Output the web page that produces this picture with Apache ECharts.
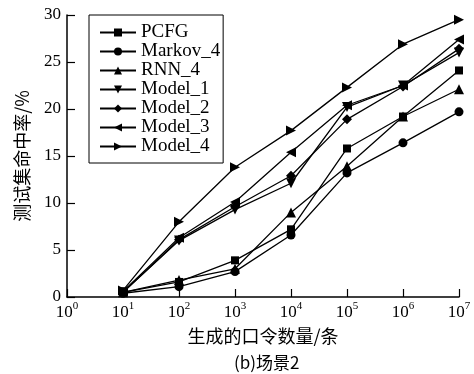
<!DOCTYPE html>
<html>
<head>
<meta charset="utf-8">
<script src="https://cdn.jsdelivr.net/npm/echarts@6/dist/echarts.min.js"></script>
<style>
  html, body { margin: 0; padding: 0; background: #fff; }
  #chart { width: 474px; height: 374px; }
</style>
</head>
<body>
<div id="chart"></div>
<script>
// x: number of generated passwords (log scale)
const counts = [1e1, 1e2, 1e3, 1e4, 1e5, 1e6, 1e7];
const seriesNames = ['PCFG', 'Markov_4', 'RNN_4', 'Model_1', 'Model_2', 'Model_3', 'Model_4'];

// hit rate on test set (%)
const pcfg    = [0.5, 1.6, 3.9, 7.2, 15.8, 19.2, 24.1];
const markov4 = [0.4, 1.1, 2.7, 6.6, 13.2, 16.4, 19.7];
const rnn4    = [0.5, 1.8, 3.0, 9.0, 13.9, 19.2, 22.1];
const model1  = [0.5, 6.0, 9.3, 12.1, 20.2, 22.5, 26.0];
const model2  = [0.5, 6.1, 9.6, 12.9, 18.9, 22.4, 26.4];
const model3  = [0.6, 6.3, 10.1, 15.4, 20.4, 22.5, 27.4];
const model4  = [0.7, 8.0, 13.8, 17.7, 22.3, 26.9, 29.5];

const allData = [pcfg, markov4, rnn4, model1, model2, model3, model4];
const symbols = [
  'rect',
  'circle',
  'triangle',
  'path://M0,0 L10,0 L5,9 Z',
  'diamond',
  'path://M9,0 L9,10 L0,5 Z',
  'path://M0,0 L9,5 L0,10 Z'
];
const symbolSizes = [8, 9, 10, 10, 10, 10, 10];

const serif = '"Liberation Serif", "Times New Roman", "Noto Sans CJK SC", serif';
const cjk = '"Noto Sans CJK SC", "Liberation Serif", serif';

const chart = echarts.init(document.getElementById('chart'));

const series = seriesNames.map((name, i) => ({
  name: name,
  type: 'line',
  data: counts.map((c, j) => [c, allData[i][j]]),
  symbol: symbols[i],
  symbolSize: symbolSizes[i],
  showAllSymbol: true,
  itemStyle: { color: '#000' },
  lineStyle: { color: '#000', width: 1.3 },
  animation: false,
}));

const option = {
  animation: false,
  grid: { left: 67, right: 15, top: 15, bottom: 77 },
  legend: {
    data: seriesNames,
    orient: 'vertical',
    left: 89,
    top: 15,
    itemWidth: 36,
    itemHeight: 10,
    itemGap: 0,
    padding: [8, 3, 7, 10],
    borderColor: '#000',
    borderWidth: 1,
    backgroundColor: '#fff',
    inactiveColor: '#000',
    textStyle: { fontFamily: serif, fontSize: 19, color: '#000', lineHeight: 18 },
  },
  xAxis: {
    type: 'log',
    logBase: 10,
    min: 1,
    max: 1e7,
    name: '生成的口令数量/条',
    nameLocation: 'middle',
    nameGap: 30,
    nameTextStyle: { fontFamily: cjk, fontSize: 18, color: '#000' },
    axisLine: { lineStyle: { color: '#000', width: 1.5 } },
    axisTick: { inside: true, length: 8, lineStyle: { color: '#000', width: 1.2 } },
    minorTick: { show: false },
    splitLine: { show: false },
    axisLabel: {
      color: '#000',
      margin: 4,
      formatter: function (v) {
        const k = Math.round(Math.log10(v));
        return '{b|10}{s|' + k + '}';
      },
      rich: {
        b: { fontFamily: serif, fontSize: 17, color: '#000', verticalAlign: 'bottom', lineHeight: 20 },
        s: { fontFamily: serif, fontSize: 11, color: '#000', verticalAlign: 'top', lineHeight: 20, padding: [0, 0, 8, 0] },
      },
    },
  },
  yAxis: {
    type: 'value',
    min: 0,
    max: 30,
    interval: 5,
    name: '测试集命中率/%',
    nameLocation: 'middle',
    nameRotate: 90,
    nameGap: 36,
    nameTextStyle: { fontFamily: cjk, fontSize: 18, color: '#000' },
    axisLine: { show: true, lineStyle: { color: '#000', width: 1.5 } },
    axisTick: { show: true, inside: true, length: 8, lineStyle: { color: '#000', width: 1.2 } },
    splitLine: { show: false },
    axisLabel: { color: '#000', fontFamily: serif, fontSize: 17, margin: 6 },
  },
  graphic: [
    {
      type: 'text',
      left: 234,
      top: 354,
      style: { text: '(b)场景2', fontFamily: cjk, fontSize: 17, fill: '#000' },
    },
  ],
  series: series,
};

chart.setOption(option);
</script>
</body>
</html>
